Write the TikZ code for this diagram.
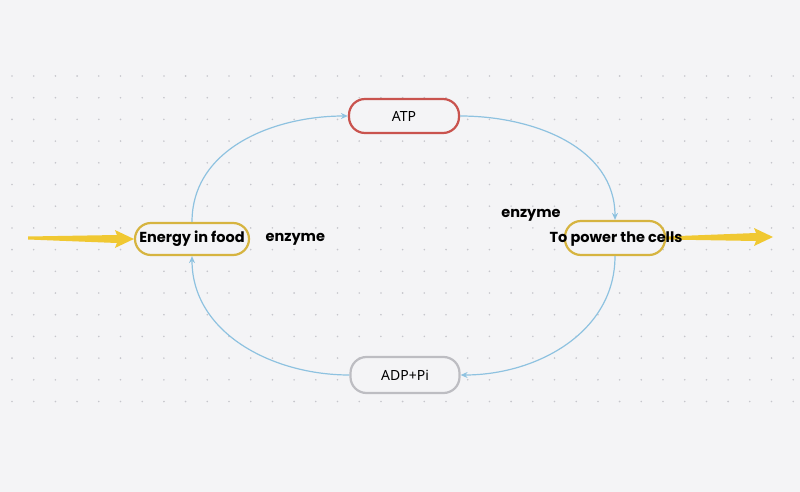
\documentclass[tikz,border=0pt]{standalone}
\usepackage{fontspec}
\setmainfont{Noto Sans}
\newfontfamily\popfont{Poppins}
\usepackage{tikz}
\usetikzlibrary{arrows.meta,calc,positioning}
\definecolor{paper}{HTML}{F4F4F6}
\definecolor{griddot}{HTML}{C6C6CC}
\definecolor{link}{HTML}{8EC2E0}
\definecolor{atpred}{HTML}{C9534E}
\definecolor{gold}{HTML}{D6B440}
\definecolor{arrowgold}{HTML}{F0C832}
\definecolor{adpgray}{HTML}{BDBDC2}

\begin{document}
\begin{tikzpicture}[x=1pt,y=-1pt, every node/.style={font=\fontsize{14}{16}\selectfont,text=black},
  pill/.style={rounded corners=16pt,line width=2.2pt,fill=paper,minimum height=34pt,inner sep=2pt},
  lab/.style={font=\popfont\bfseries\fontsize{14.5}{16}\selectfont},
  cyc/.style={-{Stealth[length=7pt,width=6pt]},draw=link,line width=1.2pt}]
  \fill[paper] (0,0) rectangle (800,492);
  \useasboundingbox (0,0) rectangle (800,492);
  % dotted grid
  \foreach \i in {0,...,36}
    \foreach \j in {0,...,15}
      \fill[griddot] (12+\i*21.7,76+\j*21.7) circle (0.9);
  % the four stages
  \node[pill,draw=atpred,minimum width=110pt] (atp) at (404,116) {ATP};
  \node[pill,draw=gold,minimum width=114pt,minimum height=32pt,lab] (food) at (192,239) {Energy in food};
  \node[pill,draw=gold,minimum width=100pt] (power) at (615,238) {};
  \node[pill,draw=adpgray,minimum width=109pt,minimum height=36pt] (adp) at (405,375) {ADP+Pi};
  \node[lab,right=12pt of food] (enzL) {enzyme};
  \node[lab] (enzR) at (531,215) {enzyme};
  % cycle
  \draw[cyc] (food.north) to[out=90,in=180] (atp.west);
  \draw[cyc] (atp.east) to[out=0,in=90] (power.north);
  \draw[cyc] (power.south) to[out=-90,in=0] (adp.east);
  \draw[cyc] (adp.west) to[out=180,in=-90] (food.south);
  % energy in and out
  \coordinate (inTail) at (28,238);
  \coordinate (outTip) at (773,237);
  \fill[arrowgold] ($(inTail)+(0,-1.5)$) -- ($(food.west)+(-17,-4)$) -- ($(food.west)+(-19,-9)$) -- (food.west)
    -- ($(food.west)+(-19,9)$) -- ($(food.west)+(-17,4)$) -- ($(inTail)+(0,1.5)$) -- cycle;
  \fill[arrowgold] ($(power.east)+(0,-1.5)$) -- ($(outTip)+(-17,-4)$) -- ($(outTip)+(-19,-9)$) -- (outTip)
    -- ($(outTip)+(-19,9)$) -- ($(outTip)+(-17,4)$) -- ($(power.east)+(0,1.5)$) -- cycle;
  \node[lab] (powerText) at ($(power)+(1,1)$) {To power the cells};
\end{tikzpicture}
\end{document}
